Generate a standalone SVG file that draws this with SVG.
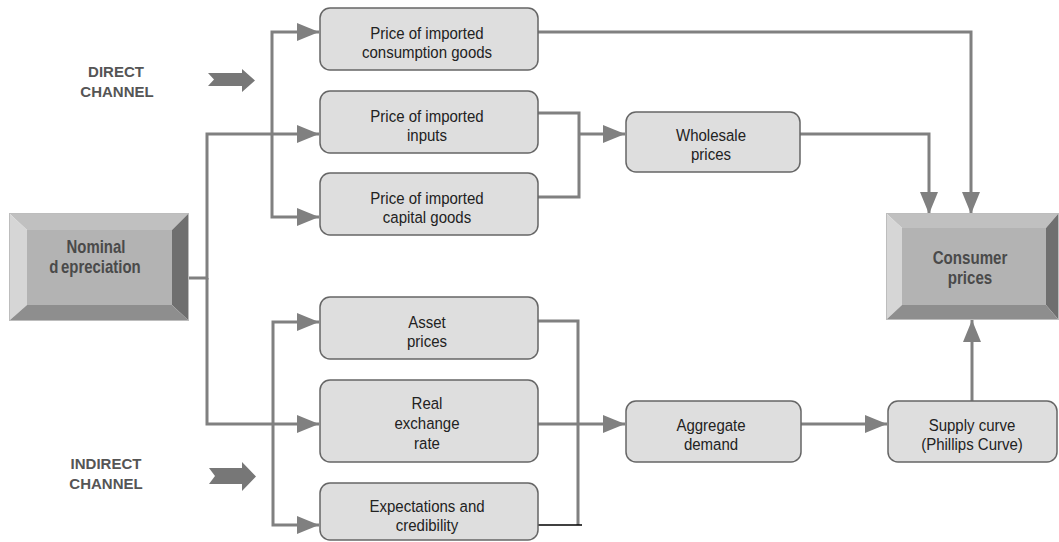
<svg xmlns="http://www.w3.org/2000/svg" width="1059" height="542" viewBox="0 0 1059 542">
<defs>
<style>
.node{fill:#dedede;stroke:#666;stroke-width:1.5}
.t{font-family:"Liberation Sans",Arial,sans-serif;font-size:16.5px;fill:#222;text-anchor:middle}
.tb{font-family:"Liberation Sans",Arial,sans-serif;font-size:18px;font-weight:bold;fill:#4a4a4a;text-anchor:middle}
.lbl{font-family:"Liberation Sans",Arial,sans-serif;font-size:15px;font-weight:bold;fill:#555;text-anchor:middle}
.c{fill:none;stroke:#808080;stroke-width:3}
.bt{fill:#c0c0c0}.bl{fill:#d6d6d6}.br{fill:#6f6f6f}.bb{fill:#8e8e8e}.bf{fill:#b3b3b3}
.bo{fill:none;stroke:#bdbdbd;stroke-width:1}
.blk{fill:#777}
</style>
<marker id="ah" markerUnits="userSpaceOnUse" markerWidth="22" markerHeight="18" refX="22" refY="9" orient="auto">
<path d="M0,0 L22,9 L0,18 z" fill="#808080"/>
</marker>
</defs>

<g id="labels">
<text class="lbl" x="116" y="77">DIRECT</text>
<text class="lbl" x="117" y="97">CHANNEL</text>
<text class="lbl" x="106" y="469">INDIRECT</text>
<text class="lbl" x="106" y="489">CHANNEL</text>
<polygon class="blk" points="208,73 242,73 242,69 255,80.5 242,92 242,86 208,86 214,79.5"/>
<polygon class="blk" points="209,468 242,468 242,462 256,476.5 242,491 242,484 209,484 215,476"/>
</g>

<g id="connectors">
<path class="c" d="M188,278 H207 V134 H319" marker-end="url(#ah)"/>
<path class="c" d="M207,278 V424 H319" marker-end="url(#ah)"/>
<path class="c" d="M272,134 V32 H319" marker-end="url(#ah)"/>
<path class="c" d="M272,134 V217 H319" marker-end="url(#ah)"/>
<path class="c" d="M273,424 V322 H319" marker-end="url(#ah)"/>
<path class="c" d="M273,424 V525 H319" marker-end="url(#ah)"/>
<path class="c" d="M538,32 H971 V214" marker-end="url(#ah)"/>
<path class="c" d="M800,134 H929 V214" marker-end="url(#ah)"/>
<path class="c" d="M538,113 H579 V197 H538"/>
<path class="c" d="M579,134 H625" marker-end="url(#ah)"/>
<path class="c" d="M538,321 H578 V525"/>
<path d="M538,525 H582" fill="none" stroke="#000" stroke-width="1.5"/>
<path class="c" d="M538,424 H625" marker-end="url(#ah)"/>
<path class="c" d="M801,424 H887" marker-end="url(#ah)"/>
<path class="c" d="M972,401 V320" marker-end="url(#ah)"/>
</g>

<g id="nominal">
<polygon class="bt" points="10,214 188,214 172,230 27,230"/>
<polygon class="bl" points="10,214 27,230 27,305 10,320"/>
<polygon class="br" points="188,214 188,320 172,305 172,230"/>
<polygon class="bb" points="10,320 188,320 172,305 27,305"/>
<rect class="bf" x="27" y="230" width="145" height="75"/>
<rect class="bo" x="9.5" y="213.5" width="179" height="107"/>
<text class="tb" transform="translate(96 0) scale(0.83 1)" x="0" y="253">Nominal</text>
<text class="tb" transform="translate(95 0) scale(0.83 1)" x="0" y="273"><tspan>d</tspan><tspan dx="3">epreciation</tspan></text>
</g>

<g id="consumer">
<polygon class="bt" points="887,214 1058,214 1046,228 902,228"/>
<polygon class="bl" points="887,214 902,228 902,305 887,319"/>
<polygon class="br" points="1058,214 1058,319 1046,305 1046,228"/>
<polygon class="bb" points="887,319 1058,319 1046,305 902,305"/>
<rect class="bf" x="902" y="228" width="144" height="77"/>
<rect class="bo" x="886.5" y="213.5" width="172" height="106"/>
<text class="tb" transform="translate(970 0) scale(0.84 1)" x="0" y="264">Consumer</text>
<text class="tb" transform="translate(970 0) scale(0.84 1)" x="0" y="284">prices</text>
</g>

<g id="consumption">
<rect class="node" x="320" y="8" width="218" height="62" rx="10"/>
<text class="t" transform="translate(427 0) scale(0.91 1)" x="0" y="39.5">Price of imported</text>
<text class="t" transform="translate(427 0) scale(0.91 1)" x="0" y="58.5">consumption goods</text>
</g>

<g id="inputs">
<rect class="node" x="320" y="91" width="218" height="62" rx="10"/>
<text class="t" transform="translate(427 0) scale(0.91 1)" x="0" y="122">Price of imported</text>
<text class="t" transform="translate(427 0) scale(0.91 1)" x="0" y="141">inputs</text>
</g>

<g id="capital">
<rect class="node" x="320" y="173" width="218" height="62" rx="10"/>
<text class="t" transform="translate(427 0) scale(0.91 1)" x="0" y="204">Price of imported</text>
<text class="t" transform="translate(427 0) scale(0.91 1)" x="0" y="223">capital goods</text>
</g>

<g id="wholesale">
<rect class="node" x="626" y="112" width="174" height="60" rx="10"/>
<text class="t" transform="translate(711 0) scale(0.91 1)" x="0" y="141.5">Wholesale</text>
<text class="t" transform="translate(711 0) scale(0.91 1)" x="0" y="160.5">prices</text>
</g>

<g id="asset">
<rect class="node" x="320" y="297" width="218" height="62" rx="10"/>
<text class="t" transform="translate(427 0) scale(0.91 1)" x="0" y="328">Asset</text>
<text class="t" transform="translate(427 0) scale(0.91 1)" x="0" y="347">prices</text>
</g>

<g id="realrate">
<rect class="node" x="320" y="380" width="218" height="82" rx="10"/>
<text class="t" transform="translate(427 0) scale(0.91 1)" x="0" y="409">Real</text>
<text class="t" transform="translate(427 0) scale(0.91 1)" x="0" y="429">exchange</text>
<text class="t" transform="translate(427 0) scale(0.91 1)" x="0" y="449">rate</text>
</g>

<g id="expectations">
<rect class="node" x="320" y="483" width="218" height="57" rx="10"/>
<text class="t" transform="translate(427 0) scale(0.91 1)" x="0" y="512">Expectations and</text>
<text class="t" transform="translate(427 0) scale(0.91 1)" x="0" y="531">credibility</text>
</g>

<g id="aggregate">
<rect class="node" x="626" y="401" width="175" height="61" rx="10"/>
<text class="t" transform="translate(711 0) scale(0.91 1)" x="0" y="431">Aggregate</text>
<text class="t" transform="translate(711 0) scale(0.91 1)" x="0" y="450">demand</text>
</g>

<g id="supply">
<rect class="node" x="888" y="401" width="169" height="61" rx="10"/>
<text class="t" transform="translate(972 0) scale(0.91 1)" x="0" y="431">Supply curve</text>
<text class="t" transform="translate(972 0) scale(0.91 1)" x="0" y="450.5">(Phillips Curve)</text>
</g>
</svg>
